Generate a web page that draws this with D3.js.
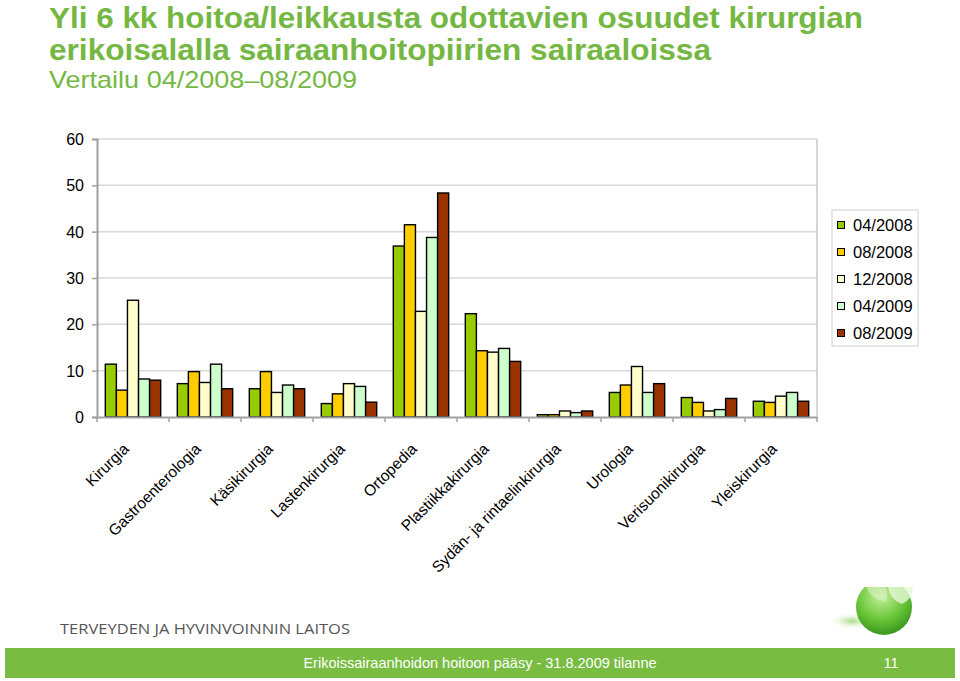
<!DOCTYPE html>
<html><head><meta charset="utf-8">
<script src="https://cdn.jsdelivr.net/npm/d3@7"></script>
<style>html,body{margin:0;padding:0;background:#fff;}svg{display:block;}</style>
</head><body>
<script>
const categories = ["Kirurgia","Gastroenterologia","Käsikirurgia","Lastenkirurgia","Ortopedia","Plastiikkakirurgia","Sydän- ja rintaelinkirurgia","Urologia","Verisuonikirurgia","Yleiskirurgia"];
const seriesNames = ["04/2008","08/2008","12/2008","04/2009","08/2009"];
const s04_2008 = [11.4, 7.2, 6.1, 2.9, 36.9, 22.3, 0.5, 5.3, 4.2, 3.4];
const s08_2008 = [5.8, 9.8, 9.8, 5.0, 41.5, 14.3, 0.5, 6.9, 3.15, 3.15];
const s12_2008 = [25.2, 7.45, 5.3, 7.2, 22.8, 14.0, 1.3, 10.9, 1.3, 4.5];
const s04_2009 = [8.2, 11.4, 6.9, 6.6, 38.75, 14.8, 0.95, 5.3, 1.6, 5.3];
const s08_2009 = [7.95, 6.1, 6.1, 3.2, 48.35, 12.0, 1.3, 7.2, 4.0, 3.4];
const seriesValues = [s04_2008, s08_2008, s12_2008, s04_2009, s08_2009];
const colors = ["#99cc00","#ffcc00","#ffffcc","#ccffcc","#993300"];
const yTicks = [0,10,20,30,40,50,60];

const W = 960, H = 681;
const svg = d3.select("body").append("svg").attr("width", W).attr("height", H);
const green = "#74b843";
const FONT = "'Liberation Sans', Arial, sans-serif";

// Title
svg.append("text").attr("x",49).attr("y",28).attr("fill",green)
  .attr("font-family",FONT).attr("font-weight","bold").attr("font-size",29)
  .attr("textLength",814).attr("lengthAdjust","spacingAndGlyphs")
  .text("Yli 6 kk hoitoa/leikkausta odottavien osuudet kirurgian");
svg.append("text").attr("x",49).attr("y",60).attr("fill",green)
  .attr("font-family",FONT).attr("font-weight","bold").attr("font-size",29)
  .attr("textLength",662).attr("lengthAdjust","spacingAndGlyphs")
  .text("erikoisalalla sairaanhoitopiirien sairaaloissa");
svg.append("text").attr("x",49).attr("y",88).attr("fill",green)
  .attr("font-family",FONT).attr("font-size",24)
  .attr("textLength",308).attr("lengthAdjust","spacingAndGlyphs")
  .text("Vertailu 04/2008–08/2009");

// Scales
const x0 = d3.scaleBand().domain(categories).range([97,817]).padding(0);
const x1 = d3.scaleBand().domain(seriesNames).range([0,x0.bandwidth()]).paddingInner(0).paddingOuter(0.75);
const y = d3.scaleLinear().domain([0,60]).range([417,139]);

const plot = svg.append("g");
plot.selectAll("line.grid").data(yTicks.slice(1)).join("line")
  .attr("x1",97).attr("x2",817).attr("y1",d=>y(d)).attr("y2",d=>y(d))
  .attr("stroke","#d8d8d8").attr("stroke-width",1.5);
plot.append("line").attr("x1",817).attr("x2",817).attr("y1",y(60)).attr("y2",y(0)).attr("stroke","#c8c8c8").attr("stroke-width",1.5);

categories.forEach((c,i)=>{
  const g = plot.append("g").attr("transform",`translate(${x0(c)},0)`);
  g.selectAll("rect").data(seriesNames.map((s,k)=>({s, v: seriesValues[k][i], k}))).join("rect")
    .attr("x",d=>x1(d.s)).attr("width",x1.bandwidth())
    .attr("y",d=>y(d.v)).attr("height",d=>y(0)-y(d.v))
    .attr("fill",d=>colors[d.k]).attr("stroke","#000").attr("stroke-width",1.4);
});

const yAxis = d3.axisLeft(y).tickValues(yTicks).tickSize(5).tickPadding(8);
const ya = svg.append("g").attr("transform","translate(97,0)").call(yAxis);
ya.select(".domain").attr("stroke","#a0a0a0").attr("stroke-width",2);
ya.selectAll(".tick line").attr("stroke","#a0a0a0").attr("stroke-width",1.5);
ya.selectAll(".tick text").attr("font-family",FONT).attr("font-size",16).attr("fill","#000").attr("dy","0.35em");

const xAxis = d3.axisBottom(x0).tickSize(0).tickFormat("");
const xa = svg.append("g").attr("transform","translate(0,417)").call(xAxis);
xa.select(".domain").attr("stroke","#a0a0a0").attr("stroke-width",2);
xa.selectAll("line.bt").data(d3.range(categories.length+1)).join("line")
  .attr("x1",i=>97+i*x0.bandwidth()).attr("x2",i=>97+i*x0.bandwidth())
  .attr("y1",0).attr("y2",5).attr("stroke","#a0a0a0").attr("stroke-width",1.5);
xa.selectAll("text.lab").data(categories).join("text")
  .attr("class","lab")
  .attr("transform",d=>`translate(${x0(d)+x0.bandwidth()/2-7},${29}) rotate(-45)`)
  .attr("text-anchor","end").attr("dy","0.35em")
  .attr("font-family",FONT).attr("font-size",15.5).attr("fill","#000")
  .text(d=>d);

const lg = svg.append("g");
lg.append("rect").attr("x",832).attr("y",210).attr("width",86).attr("height",136)
  .attr("fill","#fff").attr("stroke","#d0d0d0").attr("stroke-width",1);
seriesNames.forEach((s,k)=>{
  const yy = 225 + k*27;
  lg.append("rect").attr("x",837.5).attr("y",yy-3.5).attr("width",7).attr("height",7)
    .attr("fill",colors[k]).attr("stroke","#000").attr("stroke-width",1);
  lg.append("text").attr("x",853).attr("y",yy).attr("dy","0.36em")
    .attr("font-family",FONT).attr("font-size",16.5).text(s);
});

svg.append("text").attr("x",60).attr("y",634).attr("fill","#555")
  .attr("font-family","'Open Sans', 'Liberation Sans', sans-serif").attr("font-size",15)
  .attr("textLength",290).attr("lengthAdjust","spacingAndGlyphs")
  .text("TERVEYDEN JA HYVINVOINNIN LAITOS");
svg.append("rect").attr("x",5).attr("y",648).attr("width",950).attr("height",30).attr("fill","#78bc42");
svg.append("text").attr("x",480).attr("y",663).attr("dy","0.36em").attr("text-anchor","middle")
  .attr("fill","#fff").attr("font-family",FONT).attr("font-size",14.5)
  .text("Erikoissairaanhoidon hoitoon pääsy - 31.8.2009 tilanne");
svg.append("text").attr("x",891).attr("y",663).attr("dy","0.36em").attr("text-anchor","middle")
  .attr("fill","#fff").attr("font-family",FONT).attr("font-size",14.5)
  .text("11");

const defs = svg.append("defs");
const rg = defs.append("radialGradient").attr("id","ball").attr("cx","45%").attr("cy","30%").attr("r","75%");
rg.append("stop").attr("offset","0%").attr("stop-color","#c8f0a0");
rg.append("stop").attr("offset","55%").attr("stop-color","#6cc83a");
rg.append("stop").attr("offset","100%").attr("stop-color","#2f8f1a");
const sh = defs.append("radialGradient").attr("id","shadow");
sh.append("stop").attr("offset","0%").attr("stop-color","#7acb4a").attr("stop-opacity",0.7);
sh.append("stop").attr("offset","100%").attr("stop-color","#ffffff").attr("stop-opacity",0);
defs.append("clipPath").attr("id","clipTop").append("rect").attr("x",800).attr("y",587).attr("width",160).attr("height",60);
const logo = svg.append("g").attr("clip-path","url(#clipTop)");
logo.append("ellipse").attr("cx",852).attr("cy",621).attr("rx",24).attr("ry",9).attr("fill","url(#shadow)");
logo.append("circle").attr("cx",884).attr("cy",607).attr("r",28).attr("fill","url(#ball)");
logo.append("path").attr("d","M888,587 Q890,600 902,604 Q912,600 913,587 Z").attr("fill","#e6f8d6").attr("opacity",0.8);
logo.append("path").attr("d","M866,587 Q872,600 886,602 Q888,594 886,587 Z").attr("fill","#d8f2c4").attr("opacity",0.6);
</script>
</body></html>
